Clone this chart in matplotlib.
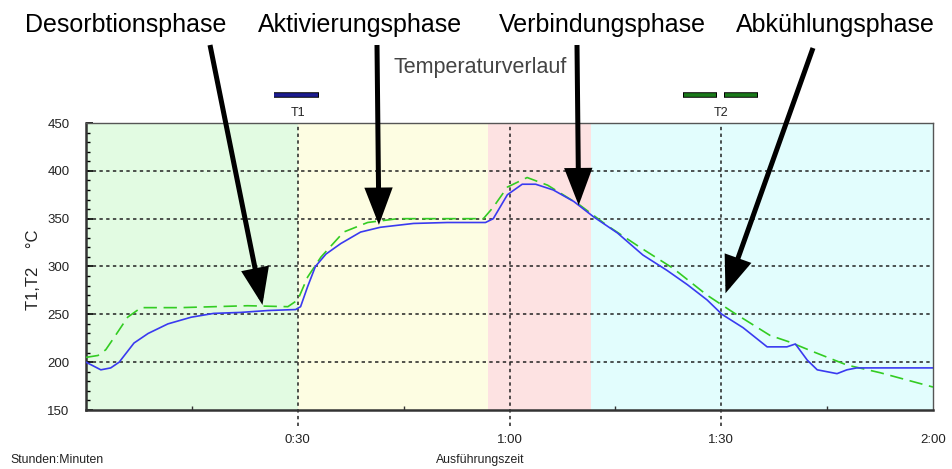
import matplotlib
matplotlib.use('Agg')
import matplotlib.pyplot as plt
from matplotlib.ticker import MultipleLocator, FixedLocator

plt.rcParams['font.family'] = ['Liberation Sans', 'DejaVu Sans']

# Zeit in Minuten, Temperatur in °C
t1_time = [0, 2.1, 3.5, 4.7, 6.8, 8.8, 11.6, 14.9, 18.1, 21.9, 25.8, 29.7, 30.4, 31.4, 32.5, 34.0,
           36.1, 38.9, 41.7, 46.4, 51.2, 56.6, 57.7, 59.7, 61.8, 63.7, 66.2, 69.1, 71.9, 75.3,
           78.9, 82.3, 85.2, 88.0, 90.1, 93.1, 96.5, 99.3, 100.5, 102.2, 103.6, 106.4, 107.8,
           109.2, 120]
t1_temp = [200, 192, 194, 200, 220, 230, 240, 247, 251, 252, 254, 255, 258, 279, 300, 313,
           324, 336, 341, 345, 346, 346, 350, 375, 386, 386, 380, 368, 352, 335,
           312, 296, 281, 265, 250, 236, 216, 216, 219, 202, 192, 188, 192,
           194, 194]

t2_time = [0, 1.7, 2.8, 4.0, 5.9, 7.8, 13.4, 22.9, 28.6, 30.0, 31.4, 33.3, 36.5, 39.9, 44.2,
           56.3, 57.7, 59.7, 62.5, 65.4, 70.0, 73.8, 78.5, 83.2, 88.0, 91.7, 96.9, 99.7,
           103.0, 107.8, 112.5, 120]
t2_temp = [205, 207, 213, 226, 247, 257, 257, 259, 258, 265, 289, 310, 336, 346, 350,
           350, 362, 383, 393, 385, 364, 343, 320, 298, 270, 252, 228, 221,
           211, 197, 189, 174]

# Phasen (Start, Ende in Minuten) und Farben
phase_bounds = [(0, 30), (30, 56.9), (56.9, 71.5), (71.5, 120)]
phase_colors = ['#e2fbe2', '#fdfde2', '#fde2e2', '#e2fdfd']

phase_names = ['Desorbtionsphase', 'Aktivierungsphase', 'Verbindungsphase', 'Abkühlungsphase']
arrow_tips = [(25.0, 259.8), (41.5, 343.5), (69.8, 364), (90.6, 272)]

W, H = 952, 469
fig = plt.figure(figsize=(W / 100, H / 100), dpi=100)
ax = fig.add_axes([86 / W, 1 - 410 / H, (933 - 86) / W, (410 - 123) / H])

for (a, b), c in zip(phase_bounds, phase_colors):
    ax.axvspan(a, b, color=c, lw=0, zorder=0)

grid_ls = (0, (2.2, 2.2))
for y in [200, 250, 300, 350, 400]:
    ax.axhline(y, color='#222222', lw=1.1, ls=grid_ls, zorder=1)
for x in [30, 60, 90]:
    ax.axvline(x, ymin=-0.055, ymax=1, color='#222222', lw=1.1, ls=grid_ls, zorder=1, clip_on=False)

ax.plot(t2_time, t2_temp, color='#33cc22', lw=1.2, dashes=(8, 4), zorder=3)
ax.plot(t1_time, t1_temp, color='#3a3af0', lw=1.2, zorder=4)

ax.set_xlim(0, 120)
ax.set_ylim(150, 450)
ax.xaxis.set_major_locator(FixedLocator([30, 60, 90, 120]))
ax.set_xticklabels(['0:30', '1:00', '1:30', '2:00'])
ax.xaxis.set_minor_locator(FixedLocator([15, 45, 75, 105]))
ax.tick_params(axis='x', which='major', length=0, pad=17, labelsize=9.5)
ax.tick_params(axis='x', which='minor', direction='in', length=3, width=1, color='#333333')
ax.yaxis.set_major_locator(MultipleLocator(50))
ax.yaxis.set_minor_locator(MultipleLocator(10))
ax.tick_params(axis='y', which='major', direction='in', length=5, width=1.2, pad=12, labelsize=9.5)
ax.tick_params(axis='y', which='minor', direction='in', length=3, width=1)
for lab in ax.get_xticklabels() + ax.get_yticklabels():
    lab.set_color('#222222')

for s in ['left', 'bottom']:
    ax.spines[s].set_linewidth(1.8)
    ax.spines[s].set_color('#333333')
for s in ['top', 'right']:
    ax.spines[s].set_linewidth(1.0)
    ax.spines[s].set_color('#555555')

# Legende oben
ax.plot([26.6, 33], [479, 479], color='black', lw=4, solid_capstyle='butt', clip_on=False)
ax.plot([26.7, 32.9], [479, 479], color='#1c1c90', lw=2.6, solid_capstyle='butt', clip_on=False)
ax.text(30, 460.5, 'T1', ha='center', va='center', fontsize=9, color='#222222')
for a, b in [(84.6, 89.4), (90.4, 95.2)]:
    ax.plot([a, b], [479, 479], color='black', lw=4, solid_capstyle='butt', clip_on=False)
    ax.plot([a + 0.1, b - 0.1], [479, 479], color='#1b7a1b', lw=2.6, solid_capstyle='butt', clip_on=False)
ax.text(90, 460.5, 'T2', ha='center', va='center', fontsize=9, color='#222222')

fig.text(480 / W, 1 - 67 / H, 'Temperaturverlauf', ha='center', va='center', fontsize=15.5, color='#444444')
fig.text(33 / W, 1 - 270 / H, 'T1,T2    °C', ha='center', va='center', rotation=90, fontsize=12, color='#222222')
fig.text(10 / W, 1 - 460 / H, 'Stunden:Minuten', ha='left', va='center', fontsize=8.8, color='#222222')
fig.text(480 / W, 1 - 460 / H, 'Ausführungszeit', ha='center', va='center', fontsize=8.8, color='#222222')

# Phasen-Beschriftungen mit Pfeilen
label_x = [126, 360, 602, 835]
tail = [(210, 45), (377, 45), (577, 45), (813, 48)]
for name, lx, (tx, ty), tip in zip(phase_names, label_x, tail, arrow_tips):
    fig.text(lx / W, 1 - 25 / H, name, ha='center', va='center', fontsize=18, color='black')
    ax.annotate('', xy=tip, xycoords='data', xytext=(tx / W, 1 - ty / H), textcoords='figure fraction',
                arrowprops=dict(arrowstyle='-|>,head_length=1.0,head_width=0.38', lw=3.6, color='black',
                                mutation_scale=20, shrinkA=0, shrinkB=0, joinstyle='miter', capstyle='butt'),
                annotation_clip=False, zorder=6)

plt.savefig('out.png', dpi=100)
